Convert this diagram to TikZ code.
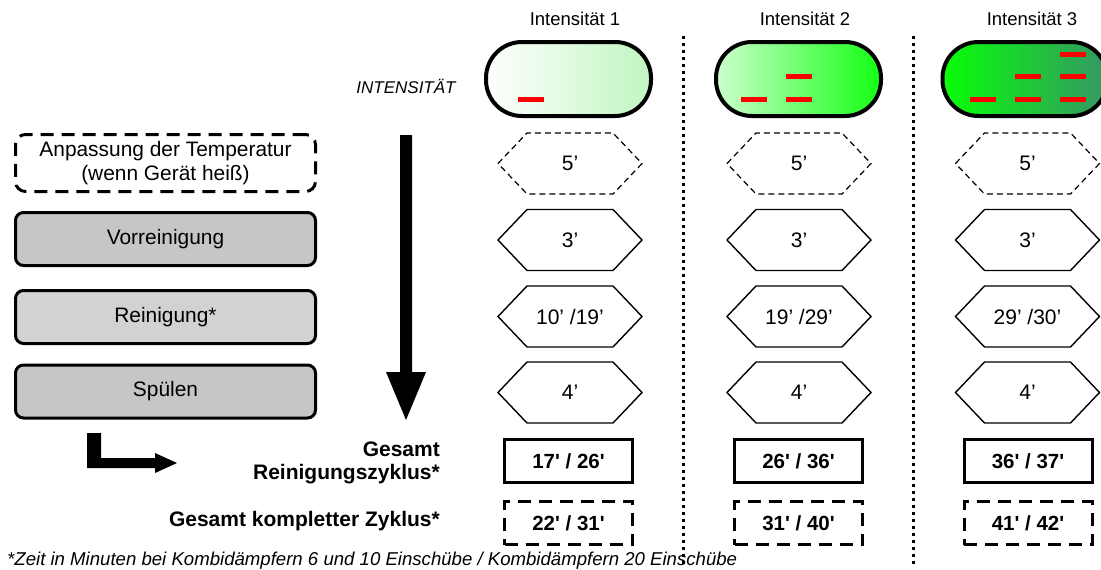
\documentclass[tikz,border=0pt]{standalone}
\usepackage{fontspec}
\setmainfont{Liberation Sans}
\usetikzlibrary{calc}
\definecolor{boxgrayA}{RGB}{198,198,198}
\definecolor{boxgrayB}{RGB}{210,210,210}
\definecolor{pOneR}{RGB}{192,246,192}
\definecolor{pTwoL}{RGB}{204,255,204}
\definecolor{pTwoR}{RGB}{20,255,20}
\definecolor{pThreeL}{RGB}{8,255,8}
\definecolor{pThreeR}{RGB}{52,150,100}
\definecolor{dashred}{RGB}{255,0,0}
\newcommand\hexnode[5]{%
  \draw[#5] (#2-72,#3) -- (#2-43,#3-30.5) -- (#2+43,#3-30.5) -- (#2+72,#3) -- (#2+43,#3+30.5) -- (#2-43,#3+30.5) -- cycle;
  \node[hextext] (#1) at (#2,#3) {#4};}
\newcommand\reddash[2]{\fill[dashred] (#1,#2-2.5) rectangle (#1+26,#2+2.5);}
\begin{document}
\begin{tikzpicture}[x=1pt,y=-1pt,
  stepbox/.style={draw, line width=3pt, rounded corners=8pt, minimum width=300pt, minimum height=53pt, inner sep=0pt, align=center, font=\fontsize{20.9}{24.5}\selectfont},
  pill/.style={draw, line width=4pt, rounded corners=36pt, minimum width=165pt, minimum height=74pt, inner sep=0pt},
  hextext/.style={inner sep=0pt, font=\fontsize{21}{24}\selectfont},
  hexsolid/.style={line width=1.4pt, line join=miter},
  hexdash/.style={line width=1.2pt, dash pattern=on 6pt off 4pt},
  totbox/.style={draw, line width=3pt, minimum width=128pt, minimum height=43pt, inner sep=0pt, font=\fontsize{20.5}{24}\selectfont\bfseries},
  totdash/.style={totbox, dash pattern=on 13pt off 8pt},
  heading/.style={inner sep=0pt, font=\fontsize{18.5}{22}\selectfont},
  dotline/.style={line width=3pt, dash pattern=on 3pt off 4pt}]
\clip (0,0) rectangle (1101,570);
\useasboundingbox (0,0) rectangle (1101,570);
% headings
\node[heading] (h1) at (575,19) {Intensität 1};
\node[heading] (h2) at (805,19) {Intensität 2};
\node[heading] (h3) at (1032,19) {Intensität 3};
\node[heading, font=\fontsize{17}{20}\selectfont\itshape] (int) at (406,86) {INTENSITÄT};
% separators
\coordinate (s1t) at (683,36); \coordinate (s1b) at (683,566);
\coordinate (s2t) at (913,36); \coordinate (s2b) at (913,566);
\draw[dotline] (s1t) -- (s1b);
\draw[dotline] (s2t) -- (s2b);
% pills
\node[pill, left color=white, right color=pOneR] (p1) at (568.5,79) {};
\node[pill, left color=pTwoL, right color=pTwoR] (p2) at (798.5,79) {};
\node[pill, left color=pThreeL, right color=pThreeR] (p3) at (1025,79) {};
\reddash{517.5}{99.5}
\reddash{741}{99.5}\reddash{786}{99.5}\reddash{786}{76.5}
\reddash{970}{99.5}\reddash{1015}{99.5}\reddash{1060}{99.5}
\reddash{1015}{76.5}\reddash{1060}{76.5}\reddash{1060}{54}
% left steps
\node[stepbox, dash pattern=on 13pt off 8pt, rounded corners=10pt, minimum height=57pt] (a1) at (165.5,163) {Anpassung der Temperatur\\(wenn Gerät heiß)};
\node[stepbox, fill=boxgrayA] (a2) at (165.5,239) {Vorreinigung};
\node[stepbox, fill=boxgrayB] (a3) at (165.5,317) {Reinigung*};
\node[stepbox, fill=boxgrayA] (a4) at (165.5,391.5) {Spülen};
% big arrow
\fill (400,135) -- (412,135) -- (412,372) -- (426,372) -- (406,420) -- (386,372) -- (400,372) -- cycle;
% L arrow
\fill (87,433) -- (101,433) -- (101,458) -- (155,458) -- (155,453) -- (177,463) -- (155,473) -- (155,468) -- (87,468) -- cycle;
% hexagons
\hexnode{c1r1}{570}{163.5}{5’}{hexdash}
\hexnode{c1r2}{570}{240}{3’}{hexsolid}
\hexnode{c1r3}{570}{316.5}{10’ /19’}{hexsolid}
\hexnode{c1r4}{570}{392.5}{4’}{hexsolid}
\hexnode{c2r1}{799}{163.5}{5’}{hexdash}
\hexnode{c2r2}{799}{240}{3’}{hexsolid}
\hexnode{c2r3}{799}{316.5}{19’ /29’}{hexsolid}
\hexnode{c2r4}{799}{392.5}{4’}{hexsolid}
\hexnode{c3r1}{1027.5}{163.5}{5’}{hexdash}
\hexnode{c3r2}{1027.5}{240}{3’}{hexsolid}
\hexnode{c3r3}{1027.5}{316.5}{29’ /30’}{hexsolid}
\hexnode{c3r4}{1027.5}{392.5}{4’}{hexsolid}
% totals
\node[inner sep=0pt, align=right, anchor=east, font=\fontsize{21}{23}\selectfont\bfseries] (lab1) at (440,463) {Gesamt\\Reinigungszyklus*};
\node[inner sep=0pt, anchor=east, font=\fontsize{21}{23}\selectfont\bfseries] (lab2) at (440,521) {Gesamt kompletter Zyklus*};
\node[totbox] (t1) at (568.5,461) {17\textquotesingle{} / 26\textquotesingle};
\node[totbox] (t2) at (798.5,461) {26\textquotesingle{} / 36\textquotesingle};
\node[totbox] (t3) at (1028,461) {36\textquotesingle{} / 37\textquotesingle};
\node[totdash] (d1) at (568.5,523) {22\textquotesingle{} / 31\textquotesingle};
\node[totdash] (d2) at (798.5,523) {31\textquotesingle{} / 40\textquotesingle};
\node[totdash] (d3) at (1028,523) {41\textquotesingle{} / 42\textquotesingle};
% footnote
\node[inner sep=0pt, anchor=base west, font=\fontsize{18.6}{22}\selectfont\itshape] (fn) at (7,565) {*Zeit in Minuten bei Kombidämpfern 6 und 10 Einschübe / Kombidämpfern 20 Einschübe};
\end{tikzpicture}
\end{document}
